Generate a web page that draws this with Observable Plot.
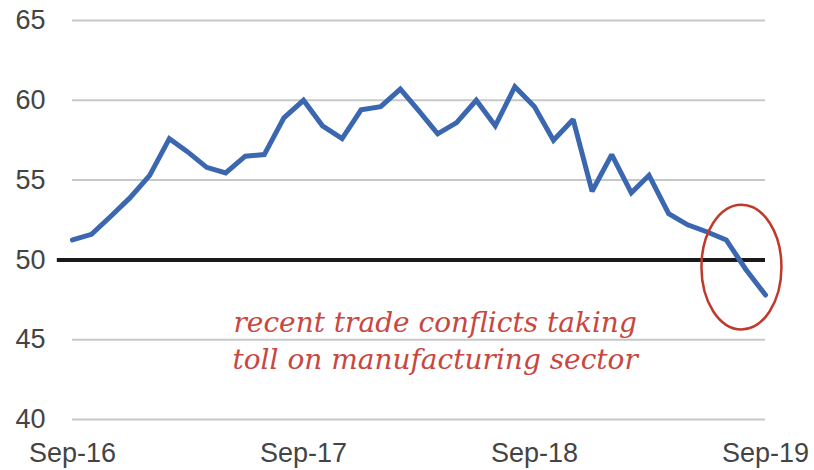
<!DOCTYPE html>
<html>
<head>
<meta charset="utf-8">
<script src="https://cdn.jsdelivr.net/npm/d3@7"></script>
<script src="https://cdn.jsdelivr.net/npm/@observablehq/plot@0.6"></script>
<style>
  html, body { margin: 0; padding: 0; background: #fff; }
  #chart { width: 814px; height: 470px; }
</style>
</head>
<body>
<div id="chart"></div>
<script>
// Monthly values, Sep-2016 .. Sep-2019
const pmiValues = [
  51.25, 51.6, 52.75, 53.9, 55.3, 57.6, 56.8, 55.8, 55.45, 56.5, 56.6, 58.9,
  60.0, 58.4, 57.6, 59.4, 59.6, 60.7, 59.4, 57.9, 58.6, 60.0, 58.4, 60.85,
  59.6, 57.5, 58.8, 54.3, 56.6, 54.2, 55.3, 52.9, 52.2, 51.75, 51.25, 49.4, 47.8
];
const startMonth = new Date(Date.UTC(2016, 8, 1));
const months = d3.utcMonth.range(startMonth, d3.utcMonth.offset(startMonth, pmiValues.length));
const yTicks = [40, 45, 50, 55, 60, 65];
const xTickDates = [new Date(Date.UTC(2016, 8, 1)), new Date(Date.UTC(2017, 8, 1)), new Date(Date.UTC(2018, 8, 1)), new Date(Date.UTC(2019, 8, 1))];
const xTickLabels = ["Sep-16", "Sep-17", "Sep-18", "Sep-19"];
const threshold = 50;
const noteLines = "recent trade conflicts taking\ntoll on manufacturing sector";
const noteAnchor = { date: new Date(Date.UTC(2018, 2, 28)), value: 46.4 };
const circleAnchor = { date: new Date(Date.UTC(2019, 6, 25)), value: 49.55 };

const data = months.map((d, i) => ({ date: d, value: pmiValues[i] }));

const chart = Plot.plot({
  width: 814,
  height: 470,
  marginLeft: 72,
  marginRight: 49,
  marginTop: 20,
  marginBottom: 51,
  style: { fontFamily: "'Liberation Sans', Arial, sans-serif", background: "#fff" },
  x: { type: "utc", domain: [xTickDates[0], xTickDates[3]] },
  y: { domain: [40, 65] },
  marks: [
    Plot.ruleY(yTicks, { stroke: "#c8c8c8", strokeWidth: 2 }),
    Plot.ruleY([threshold], { x1: d3.utcDay.offset(xTickDates[0], -24), x2: xTickDates[3], stroke: "#1a1a1a", strokeWidth: 4 }),
    Plot.lineY(data, { x: "date", y: "value", stroke: "#3a67b0", strokeWidth: 5, strokeLinejoin: "miter", strokeMiterlimit: 2 }),
    Plot.dot([circleAnchor], {
      x: "date", y: "value", r: 40, stroke: "#c0392b", strokeWidth: 2.5, fill: "none",
      render(index, scales, values, dims, ctx, next) {
        const g = next(index, scales, values, dims, ctx);
        d3.select(g).selectAll("circle").each(function () {
          const c = d3.select(this);
          const cx = +c.attr("cx") || 0, cy = +c.attr("cy") || 0;
          const t = c.attr("transform");
          if (t) {
            const m = /translate\(([-\d.]+),\s*([-\d.]+)\)/.exec(t);
            const tx = m ? +m[1] : 0, ty = m ? +m[2] : 0;
            c.attr("transform", `translate(${tx},${ty}) scale(1,1.56)`).attr("vector-effect", "non-scaling-stroke");
          } else {
            c.attr("transform", `translate(${cx},${cy}) scale(1,1.56) translate(${-cx},${-cy})`).attr("vector-effect", "non-scaling-stroke");
          }
        });
        return g;
      }
    }),
    Plot.text([noteAnchor], {
      x: "date", y: "value", text: () => noteLines,
      fontFamily: "'DejaVu Serif', serif", fontStyle: "italic", fontSize: 28,
      fill: "#c9473f", lineHeight: 1.32, textAnchor: "middle", lineAnchor: "top", dy: -12
    }),
    Plot.axisY(yTicks, { tickSize: 0, tickPadding: 27, fontSize: 27, color: "#444", label: null }),
    Plot.axisX(xTickDates, { tickSize: 0, tickPadding: 23, fontSize: 27, color: "#444", label: null,
      tickFormat: (d) => xTickLabels[xTickDates.findIndex(t => +t === +d)] })
  ]
});
document.getElementById("chart").appendChild(chart);
</script>
</body>
</html>
